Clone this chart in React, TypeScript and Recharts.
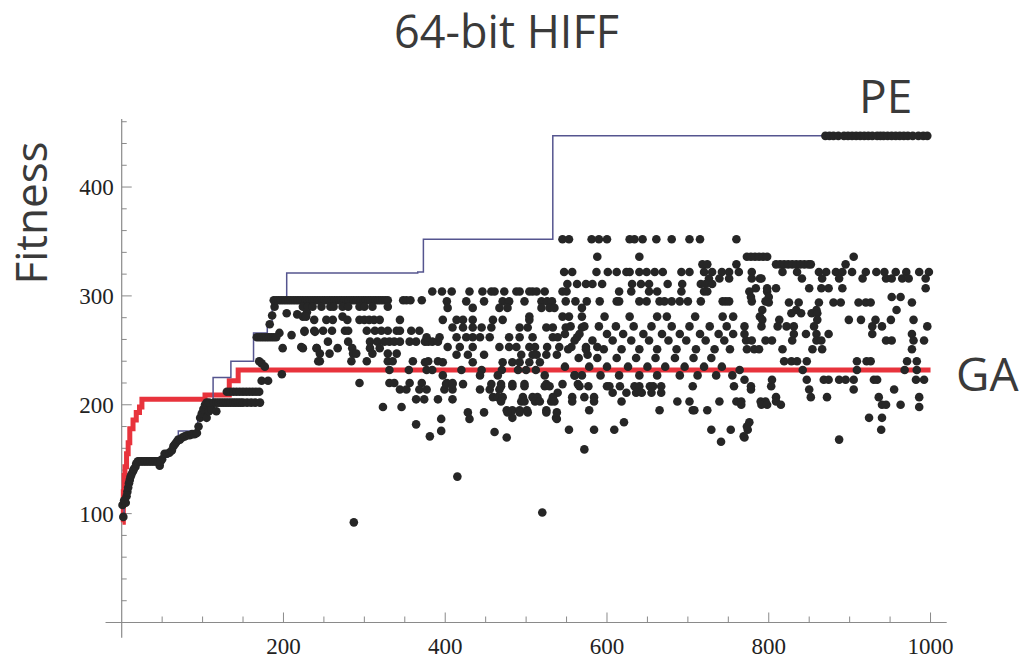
import { ComposedChart, Line, Scatter, XAxis, YAxis, ReferenceLine } from 'recharts'

// step lines: [generation, fitness] at each change
const peSteps: [number, number][] = [
  [1, 100], [3, 108], [6, 118], [9, 130], [13, 140], [18, 148], [50, 152], [57, 158], [63, 165],
  [70, 176], [94, 190], [102, 203], [113, 225], [135, 240], [163, 266], [180, 275], [186, 296],
  [204, 321], [366, 322], [373, 352], [533, 447], [1000, 447]
]
const gaSteps: [number, number][] = [
  [1, 92], [2, 120], [3, 135], [4, 143], [6, 155], [8, 165], [10, 178], [14, 186], [18, 193],
  [22, 198], [25, 205], [103, 209], [133, 222], [144, 232], [1000, 232]
]

// scatter: single points
const earlyDots: [number, number][] = [
  [2, 97], [1, 108], [3, 112], [5, 110], [6, 116], [7, 120], [8, 124], [9, 128], [10, 131], [11, 134],
  [12, 136], [14, 139], [15, 141], [17, 143], [18, 146], [47, 144], [50, 150], [53, 155], [56, 155],
  [59, 156], [62, 158], [64, 162], [66, 164], [68, 166], [70, 168], [72, 168], [75, 170], [78, 171],
  [81, 172], [84, 172], [87, 173], [90, 173], [93, 174], [95, 180], [97, 188], [99, 192], [101, 196],
  [103, 200], [105, 188], [108, 194], [111, 196], [117, 194], [173, 222], [181, 222], [170, 240],
  [173, 238], [177, 235], [183, 274], [186, 282], [189, 290], [198, 228], [195, 266], [199, 252],
  [204, 284], [210, 264], [217, 283], [222, 253], [226, 267], [229, 285], [239, 267], [241, 252],
  [243, 240], [287, 92], [415, 134], [520, 101], [461, 175], [476, 170], [395, 176], [381, 171],
  [364, 182], [395, 187], [430, 187], [538, 187], [483, 188], [537, 188], [621, 184], [776, 184],
  [553, 177], [584, 177], [609, 177], [729, 177], [753, 177], [774, 177], [770, 170], [741, 166],
  [572, 159], [986, 198], [924, 188], [940, 188], [773, 180], [939, 177], [769, 171], [887, 168]
]

// scatter: rows of points sharing roughly one fitness value [fitness, generations]
const dotRows: [number, number[]][] = [
  [148, [20, 22, 24, 26, 28, 30, 32, 34, 36, 38, 40, 42, 44, 46, 48]],
  [202, [105, 108, 114, 117, 120, 123, 126, 129, 132, 135, 138, 141, 144, 147, 150, 155, 160, 165, 171]],
  [212, [130, 134, 138, 142, 146, 150, 154, 158, 162, 166, 170]],
  [262, [167, 170, 173, 176, 179, 182, 185, 188, 191]],
  [296, [188, 191, 194, 197, 200, 203, 206, 209, 212, 215, 218, 221, 224, 227, 230, 233, 236, 239, 242,
    245, 248, 251, 254, 257, 260, 263, 266, 269, 272, 275, 278, 281, 284, 287, 290, 293, 296, 299, 302,
    305, 308, 311, 314, 317, 320, 323, 326, 329, 348, 352, 357, 371]],
  [290, [224, 230, 236, 247, 258, 262, 273, 280, 294, 300, 310, 329]],
  [281, [224, 228, 273]],
  [278, [238, 253, 261, 279, 294, 300, 306, 312, 319, 344, 397, 414, 422, 434, 459, 471, 504]],
  [268, [226, 238, 249, 260, 276, 280, 303, 313, 321, 329, 340, 344, 358, 368]],
  [258, [255, 280, 307, 316, 325, 331, 337, 344, 356, 364, 375, 379, 384, 391]],
  [252, [224, 241, 267, 285, 307, 319]],
  [247, [245, 257, 286, 290, 310, 329, 340]],
  [240, [245, 284, 303, 329, 335, 360, 379, 391]],
  [232, [331, 355, 377, 384, 420, 445, 470, 490, 500, 512]],
  [220, [294, 331, 337, 356, 371, 402, 409]],
  [214, [344, 352, 368, 377, 399, 409, 443, 455, 467]],
  [205, [364, 374, 391, 409]],
  [198, [323, 346]],
  [304, [384, 396, 408, 430, 446, 457, 461, 473, 488, 492, 504, 508, 513, 523, 545, 550, 615, 630, 652,
    662, 692, 720, 724, 776, 798]],
  [295, [402, 426, 448, 471, 479, 498, 519, 526, 532, 549, 561, 575, 591, 612, 615, 640, 649, 665, 671,
    680, 690, 700, 716, 743, 747, 751, 779, 796]],
  [289, [403, 434, 467, 477, 519, 529, 535, 569]],
  [271, [409, 422, 434, 445, 457, 492, 502, 525, 533, 549, 569]],
  [262, [377, 393, 414, 426, 434, 443, 455, 479, 492, 508, 533, 539, 563]],
  [253, [403, 418, 434, 467, 479, 488, 504, 511, 526, 541, 556, 574, 588]],
  [246, [414, 428, 448, 494, 508, 513, 525, 538, 576]],
  [239, [375, 397, 434, 471, 483, 492, 504, 517]],
  [227, [397, 443, 465, 523, 560, 569]],
  [219, [401, 409, 422, 457, 469, 483, 498, 525, 545, 564]],
  [217, [469, 483, 498, 523, 529, 566, 577, 600, 603, 616, 634, 640, 653, 657, 667, 706, 757, 778, 803]],
  [211, [539, 607, 624, 636, 643, 655, 667]],
  [207, [459, 465, 471, 496, 508, 514, 533, 557, 572, 584]],
  [203, [469, 494, 498, 511, 517, 531, 535, 557, 584, 618, 687, 702, 739, 760, 766, 790, 796, 809]],
  [195, [476, 483, 492, 501, 525, 578, 665, 706, 708, 724]],
  [193, [428, 448, 477, 492, 502, 525, 538]],
  [352, [545, 553, 581, 590, 600, 628, 634, 644, 661, 680, 702, 715, 760]],
  [336, [588, 640, 773, 778, 783, 788, 793, 798, 905]],
  [329, [718, 724, 760, 809, 814, 819, 824, 829, 834, 839, 844, 849, 852, 895]],
  [322, [547, 557, 587, 601, 612, 624, 628, 640, 649, 659, 669, 692, 702, 720, 730, 742, 751, 763, 779,
    817, 835, 862, 871, 883, 891, 903, 920, 933, 943, 957, 970, 986, 998]],
  [316, [726, 739, 751, 789, 779, 791, 841, 866, 887, 916, 945, 952, 965, 973, 994]],
  [311, [551, 563, 574, 582, 594, 631, 642, 652, 675, 693, 716, 722, 730]],
  [307, [784, 798, 809, 850, 865, 874, 891, 994]],
  [299, [778, 800, 952, 963]],
  [294, [800, 825, 837, 862, 880, 889, 911, 920, 926, 977]],
  [287, [792, 834, 859, 958]],
  [284, [828, 840, 853, 860]],
  [281, [504, 545, 553, 569, 597, 628, 662, 674, 709, 743, 756, 789]],
  [278, [792, 813, 860, 899, 914, 932, 951, 979]],
  [272, [555, 572, 590, 611, 633, 655, 680, 702, 727, 748, 770, 791, 811, 822, 831, 856, 928, 940, 996]],
  [265, [548, 566, 600, 620, 645, 668, 690, 715, 738, 756, 770, 831, 846, 859, 874, 928, 977]],
  [259, [560, 582, 607, 630, 652, 676, 698, 722, 745, 772, 779, 796, 804, 829, 859, 865, 945, 952, 979, 992]],
  [251, [552, 574, 596, 618, 640, 662, 686, 710, 733, 752, 773, 782, 788, 817, 854, 866, 977]],
  [243, [565, 588, 612, 636, 660, 684, 707, 729]],
  [240, [819, 828, 835, 847, 909, 921, 926, 971, 983]],
  [235, [548, 578, 600, 626, 650, 672, 696, 720, 742]],
  [232, [764, 842, 909, 968, 983]],
  [227, [560, 592, 615, 640, 662, 690, 712, 735, 755]],
  [223, [770, 804, 847, 868, 874, 887, 895, 905, 930, 934, 982, 992]],
  [214, [778, 850, 905, 955]],
  [207, [809, 852, 872, 936, 986]],
  [200, [766, 791, 798, 815, 940, 945, 963]],
  [447, [870, 875, 880, 886, 893, 898, 903, 908, 913, 918, 923, 928, 934, 938, 942, 947, 952, 957, 962,
    967, 972, 978, 985, 991, 996]]
]

const xTicks = [200, 400, 600, 800, 1000]
const yTicks = [100, 200, 300, 400]
const xTickMarks = [50, 100, 150, 200, 250, 300, 350, 400, 450, 500, 550, 600, 650, 700, 750, 800, 850, 900, 950, 1000]
const yTickMarks = [20, 40, 60, 80, 100, 120, 140, 160, 180, 200, 220, 240, 260, 280, 300, 320, 340, 360, 380, 400, 420, 440, 460]

const peData = peSteps.map(([x, y]) => ({ x, y }))
const gaData = gaSteps.map(([x, y]) => ({ x, y }))
const dots = [
  ...earlyDots.map(([x, y]) => ({ x, y })),
  ...dotRows.flatMap(([y, xs]) => xs.map((x) => ({ x, y })))
]

const AXIS = '#8a8a8a'
const TEXT = '#3a3a3a'

const Dot = (props: any) => <circle cx={props.cx} cy={props.cy} r={4.3} fill="#262626" />

export default function App() {
  const tickFont = { fontFamily: '"Liberation Serif", "DejaVu Serif", serif', fontSize: 23, fill: '#222' }
  return (
    <div style={{ position: 'absolute', left: 0, top: 0, width: 1026, height: 659, background: '#fff' }}>
      <ComposedChart width={1026} height={659} margin={{ top: 119, right: 79.3, bottom: 6.5, left: 61.7 }}>
        <XAxis
          type="number"
          dataKey="x"
          domain={[0, 1020]}
          ticks={xTicks}
          interval={0}
          axisLine={false}
          tickLine={false}
          tickMargin={9}
          height={30}
          tick={tickFont}
        />
        <YAxis
          type="number"
          dataKey="y"
          domain={[0, 462.5]}
          ticks={yTicks}
          interval={0}
          axisLine={false}
          tickLine={false}
          width={60}
          tick={tickFont}
        />
        <ReferenceLine segment={[{ x: -20, y: 0 }, { x: 1020, y: 0 }]} stroke={AXIS} strokeWidth={1.2} ifOverflow="visible" />
        <ReferenceLine segment={[{ x: 0, y: -14 }, { x: 0, y: 462.5 }]} stroke={AXIS} strokeWidth={1.2} ifOverflow="visible" />
        {xTickMarks.map((v) => (
          <ReferenceLine
            key={`xt-${v}`}
            segment={[{ x: v, y: 0 }, { x: v, y: v % 200 === 0 ? 9.2 : 5.5 }]}
            stroke={AXIS}
            ifOverflow="visible"
          />
        ))}
        {yTickMarks.map((v) => (
          <ReferenceLine
            key={`yt-${v}`}
            segment={[{ x: 0, y: v }, { x: v % 100 === 0 ? 12.4 : 6.2, y: v }]}
            stroke={AXIS}
            ifOverflow="visible"
          />
        ))}
        <Line data={gaData} dataKey="y" type="stepAfter" stroke="#e8333c" strokeWidth={5} dot={false} isAnimationActive={false} />
        <Scatter data={dots} dataKey="y" shape={Dot} isAnimationActive={false} />
        <Line data={peData} dataKey="y" type="stepAfter" stroke="#55558f" strokeWidth={1.5} dot={false} isAnimationActive={false} />
      </ComposedChart>
      <svg width={1026} height={659} style={{ position: 'absolute', left: 0, top: 0, pointerEvents: 'none' }}>
        <g fontFamily='"Open Sans", sans-serif' fill={TEXT}>
          <text x={506.5} y={48} fontSize={45} textAnchor="middle">64-bit HIFF</text>
          <text x={47} y={213} fontSize={44} textAnchor="middle" transform="rotate(-90 47 213)">Fitness</text>
          <text x={859} y={113} fontSize={46}>PE</text>
          <text x={956} y={391} fontSize={46}>GA</text>
        </g>
      </svg>
    </div>
  )
}
